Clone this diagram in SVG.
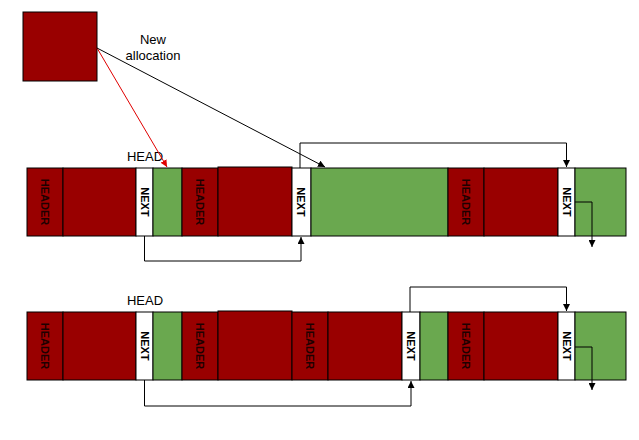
<svg xmlns="http://www.w3.org/2000/svg" width="639" height="440" viewBox="0 0 639 440">
<style>
.r{fill:#990000;stroke:#000;stroke-width:1}
.g{fill:#6aa84f;stroke:#000;stroke-width:1}
.w{fill:#fff;stroke:#000;stroke-width:1}
.hd{font-family:"Liberation Sans",Arial,sans-serif;font-weight:bold;font-size:11px;fill:#1e0000;text-anchor:middle;dominant-baseline:central}
.nx{font-family:"Liberation Sans",Arial,sans-serif;font-weight:bold;font-size:11px;fill:#000;text-anchor:middle;dominant-baseline:central}
.lb{font-family:"Liberation Sans",Arial,sans-serif;font-size:13px;fill:#000;text-anchor:middle}
.c{fill:none;stroke:#000;stroke-width:1}
</style>
<defs>
<marker id="ak" viewBox="0 0 10 10" refX="10" refY="5" markerWidth="7" markerHeight="7" orient="auto" markerUnits="userSpaceOnUse"><path d="M0,0 L10,5 L0,10 z" fill="#000"/></marker>
<marker id="ar" viewBox="0 0 10 10" refX="10" refY="5" markerWidth="7" markerHeight="7" orient="auto" markerUnits="userSpaceOnUse"><path d="M0,0 L10,5 L0,10 z" fill="#e00000"/></marker>
</defs>
<g id="newalloc"><rect class="r" x="23" y="12" width="74" height="69"/></g>
<g id="label-new"><text class="lb" x="153" y="44">New</text><text class="lb" x="153" y="60">allocation</text></g>
<g id="row1">
<text class="lb" x="145" y="161">HEAD</text>
<g id="r1-h1"><rect class="r" x="27" y="168" width="36" height="68"/><text class="hd" transform="translate(45,202) rotate(90)">HEADER</text></g>
<g id="r1-b1"><rect class="r" x="63" y="168" width="73" height="68"/></g>
<g id="r1-n1"><rect class="w" x="136" y="168" width="17" height="68"/><text class="nx" transform="translate(144.5,202) rotate(90)">NEXT</text></g>
<g id="r1-f1"><rect class="g" x="153" y="168" width="29" height="68"/></g>
<g id="r1-h2"><rect class="r" x="182" y="168" width="36" height="68"/><text class="hd" transform="translate(200,202) rotate(90)">HEADER</text></g>
<g id="r1-b2"><rect class="r" x="218" y="167" width="74" height="69"/></g>
<g id="r1-n2"><rect class="w" x="292" y="168" width="19" height="68"/><text class="nx" transform="translate(301,202) rotate(90)">NEXT</text></g>
<g id="r1-f2"><rect class="g" x="311" y="168" width="137" height="68"/></g>
<g id="r1-h3"><rect class="r" x="448" y="168" width="36" height="68"/><text class="hd" transform="translate(466,202) rotate(90)">HEADER</text></g>
<g id="r1-b3"><rect class="r" x="484" y="168" width="74" height="68"/></g>
<g id="r1-n3"><rect class="w" x="558" y="168" width="17" height="68"/><text class="nx" transform="translate(566.5,202) rotate(90)">NEXT</text></g>
<g id="r1-f3"><rect class="g" x="575" y="168" width="51" height="68"/></g>
</g>
<g id="row2">
<text class="lb" x="145" y="305">HEAD</text>
<g id="r2-h1"><rect class="r" x="27" y="312" width="36" height="68"/><text class="hd" transform="translate(45,346) rotate(90)">HEADER</text></g>
<g id="r2-b1"><rect class="r" x="63" y="312" width="73" height="68"/></g>
<g id="r2-n1"><rect class="w" x="136" y="312" width="17" height="68"/><text class="nx" transform="translate(144.5,346) rotate(90)">NEXT</text></g>
<g id="r2-f1"><rect class="g" x="153" y="312" width="29" height="68"/></g>
<g id="r2-h2"><rect class="r" x="182" y="312" width="36" height="68"/><text class="hd" transform="translate(200,346) rotate(90)">HEADER</text></g>
<g id="r2-b2"><rect class="r" x="218" y="311" width="74" height="69"/></g>
<g id="r2-h3"><rect class="r" x="292" y="312" width="36" height="68"/><text class="hd" transform="translate(310,346) rotate(90)">HEADER</text></g>
<g id="r2-b3"><rect class="r" x="328" y="312" width="74" height="68"/></g>
<g id="r2-n2"><rect class="w" x="402" y="312" width="18" height="68"/><text class="nx" transform="translate(411,346) rotate(90)">NEXT</text></g>
<g id="r2-f2"><rect class="g" x="420" y="312" width="28" height="68"/></g>
<g id="r2-h4"><rect class="r" x="448" y="312" width="36" height="68"/><text class="hd" transform="translate(466,346) rotate(90)">HEADER</text></g>
<g id="r2-b4"><rect class="r" x="484" y="312" width="74" height="68"/></g>
<g id="r2-n3"><rect class="w" x="558" y="312" width="17" height="68"/><text class="nx" transform="translate(566.5,346) rotate(90)">NEXT</text></g>
<g id="r2-f3"><rect class="g" x="575" y="312" width="51" height="68"/></g>
</g>
<g id="connectors">
<line x1="97" y1="48" x2="167" y2="167" stroke="#e00000" stroke-width="1" marker-end="url(#ar)"/>
<line x1="97" y1="48" x2="325" y2="167" stroke="#000" stroke-width="1" marker-end="url(#ak)"/>
<polyline class="c" points="144.5,236 144.5,261 301,261 301,237" marker-end="url(#ak)"/>
<polyline class="c" points="300,168 300,143 566.5,143 566.5,167" marker-end="url(#ak)"/>
<polyline class="c" points="575,202 592,202 592,247" marker-end="url(#ak)"/>
<polyline class="c" points="144.5,380 144.5,406 411,406 411,381" marker-end="url(#ak)"/>
<polyline class="c" points="410,312 410,287 566.5,287 566.5,311" marker-end="url(#ak)"/>
<polyline class="c" points="575,347 592,347 592,390" marker-end="url(#ak)"/>
</g>
</svg>
